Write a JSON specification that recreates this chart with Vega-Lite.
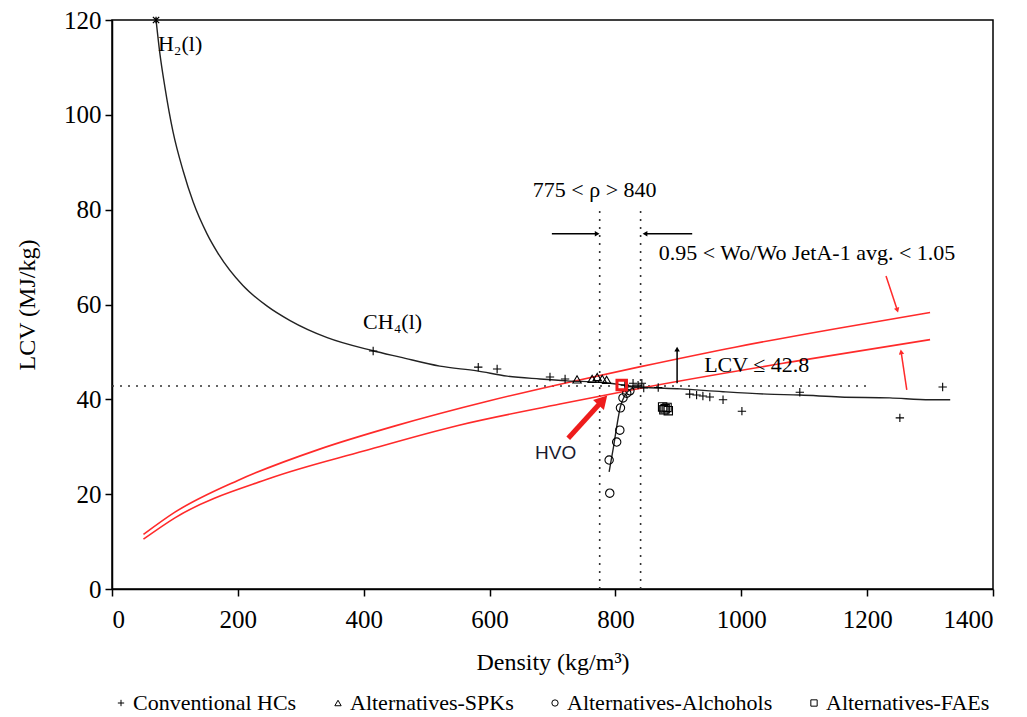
{
  "$schema": "https://vega.github.io/schema/vega-lite/v6.json",
  "autosize": "none",
  "width": 881,
  "height": 569,
  "padding": {"left": 112, "top": 20, "right": 34, "bottom": 128},
  "background": "white",
  "config": {
    "font": "Liberation Serif",
    "view": {"stroke": "black", "strokeWidth": 1.5},
    "style": {
      "guide-label": {"font": "Liberation Serif"},
      "guide-title": {"font": "Liberation Serif"}
    },
    "axis": {
      "grid": false,
      "domainColor": "black",
      "domainWidth": 1.5,
      "tickColor": "black",
      "tickWidth": 1.5,
      "tickSize": 7,
      "labelFont": "Liberation Serif",
      "labelFontSize": 25,
      "labelColor": "black",
      "titleFont": "Liberation Serif",
      "titleFontSize": 24,
      "titleFontWeight": "normal",
      "titleColor": "black"
    },
    "legend": {"labelFont": "Liberation Serif"}
  },
  "datasets": {
    "curve": [
      {"d": 70, "v": 120}, {"d": 76, "v": 113}, {"d": 84, "v": 105.9}, {"d": 97, "v": 96.4},
      {"d": 113, "v": 88.2}, {"d": 129, "v": 81.6}, {"d": 151, "v": 74.9}, {"d": 168, "v": 70.9},
      {"d": 208, "v": 64.0}, {"d": 246, "v": 59.7}, {"d": 283, "v": 56.6}, {"d": 342, "v": 53.0},
      {"d": 413, "v": 50.3}, {"d": 458, "v": 48.9}, {"d": 521, "v": 47.0}, {"d": 580, "v": 46.0},
      {"d": 628, "v": 44.9}, {"d": 680, "v": 44.3}, {"d": 723, "v": 43.9}, {"d": 775, "v": 43.6},
      {"d": 839, "v": 42.6}, {"d": 903, "v": 42.2}, {"d": 971, "v": 41.6}, {"d": 1041, "v": 41.1},
      {"d": 1093, "v": 40.9}, {"d": 1157, "v": 40.5}, {"d": 1236, "v": 40.3}, {"d": 1300, "v": 39.9},
      {"d": 1332, "v": 39.9}
    ],
    "alcline": [
      {"d": 790, "v": 24.7}, {"d": 797, "v": 30}, {"d": 803, "v": 35}, {"d": 808, "v": 38.5},
      {"d": 815, "v": 40.8}, {"d": 825, "v": 42.2}, {"d": 840, "v": 42.7}
    ],
    "red": [
      {"s": "upper", "d": 50, "v": 11.5}, {"s": "upper", "d": 100, "v": 16.2}, {"s": "upper", "d": 200, "v": 22.9},
      {"s": "upper", "d": 330, "v": 29.5}, {"s": "upper", "d": 450, "v": 34.4}, {"s": "upper", "d": 600, "v": 39.7},
      {"s": "upper", "d": 712, "v": 43.2}, {"s": "upper", "d": 840, "v": 46.9}, {"s": "upper", "d": 990, "v": 51.0},
      {"s": "upper", "d": 1150, "v": 54.9}, {"s": "upper", "d": 1300, "v": 58.3},
      {"s": "lower", "d": 50, "v": 10.5}, {"s": "lower", "d": 100, "v": 15.0}, {"s": "lower", "d": 250, "v": 23.3},
      {"s": "lower", "d": 400, "v": 29.1}, {"s": "lower", "d": 550, "v": 34.5}, {"s": "lower", "d": 712, "v": 39.0},
      {"s": "lower", "d": 850, "v": 42.6}, {"s": "lower", "d": 1080, "v": 47.9}, {"s": "lower", "d": 1300, "v": 52.6}
    ],
    "pts": [
      {"type": "Conventional HCs", "d": 415, "v": 50.2},
      {"type": "Conventional HCs", "d": 582, "v": 46.8},
      {"type": "Conventional HCs", "d": 612, "v": 46.4},
      {"type": "Conventional HCs", "d": 696, "v": 44.7},
      {"type": "Conventional HCs", "d": 720, "v": 44.3},
      {"type": "Conventional HCs", "d": 815, "v": 43.0},
      {"type": "Conventional HCs", "d": 828, "v": 43.4},
      {"type": "Conventional HCs", "d": 836, "v": 43.0},
      {"type": "Conventional HCs", "d": 842, "v": 43.4},
      {"type": "Conventional HCs", "d": 845, "v": 42.4},
      {"type": "Conventional HCs", "d": 868, "v": 42.5},
      {"type": "Conventional HCs", "d": 918, "v": 41.1},
      {"type": "Conventional HCs", "d": 929, "v": 40.9},
      {"type": "Conventional HCs", "d": 939, "v": 40.7},
      {"type": "Conventional HCs", "d": 950, "v": 40.5},
      {"type": "Conventional HCs", "d": 971, "v": 39.9},
      {"type": "Conventional HCs", "d": 1001, "v": 37.5},
      {"type": "Conventional HCs", "d": 1093, "v": 41.5},
      {"type": "Conventional HCs", "d": 1252, "v": 36.1},
      {"type": "Conventional HCs", "d": 1320, "v": 42.6},
      {"type": "Alternatives-SPKs", "d": 739, "v": 44.2},
      {"type": "Alternatives-SPKs", "d": 763, "v": 44.3},
      {"type": "Alternatives-SPKs", "d": 771, "v": 44.7},
      {"type": "Alternatives-SPKs", "d": 779, "v": 44.3},
      {"type": "Alternatives-SPKs", "d": 786, "v": 44.1},
      {"type": "Alternatives-Alchohols", "d": 823, "v": 41.8},
      {"type": "Alternatives-Alchohols", "d": 818, "v": 41.3},
      {"type": "Alternatives-Alchohols", "d": 812, "v": 40.3},
      {"type": "Alternatives-Alchohols", "d": 808, "v": 38.2},
      {"type": "Alternatives-Alchohols", "d": 807, "v": 33.5},
      {"type": "Alternatives-Alchohols", "d": 802, "v": 31.0},
      {"type": "Alternatives-Alchohols", "d": 790, "v": 27.2},
      {"type": "Alternatives-Alchohols", "d": 791, "v": 20.2},
      {"type": "Alternatives-FAEs", "d": 875, "v": 38.4},
      {"type": "Alternatives-FAEs", "d": 879, "v": 38.0},
      {"type": "Alternatives-FAEs", "d": 884, "v": 37.6},
      {"type": "Alternatives-FAEs", "d": 877, "v": 37.8},
      {"type": "Alternatives-FAEs", "d": 882, "v": 38.3}
    ],
    "vrules": [{"d": 775, "v0": 0, "v1": 80}, {"d": 840, "v0": 0, "v1": 80}],
    "hrule": [{"d0": 0, "d1": 1200, "v": 42.8}],
    "blackarrows": [
      {"d": 699, "v": 74.9, "d2": 771, "v2": 74.9, "ang": 90},
      {"d": 922, "v": 74.9, "d2": 847, "v2": 74.9, "ang": 270},
      {"d": 898, "v": 43.4, "d2": 898, "v2": 50.6, "ang": 0}
    ],
    "redarrows": [
      {"d": 1230, "v": 66.0, "d2": 1248, "v2": 58.8, "ang": 162},
      {"d": 1263, "v": 42.0, "d2": 1254, "v2": 50.0, "ang": 351}
    ],
    "hvoarrow": [{"d": 725, "v": 31.8, "d2": 780, "v2": 39.8, "ang": 43}],
    "hvo": [{"d": 810, "v": 43.0}],
    "h2": [{"d": 70, "v": 120}],
    "serifLabels": [
      {"d": 73, "v": 115.0, "t": "H₂(l)"},
      {"d": 399, "v": 56.3, "t": "CH₄(l)"},
      {"d": 869, "v": 70.9, "t": "0.95 < Wo/Wo JetA-1 avg. < 1.05"},
      {"d": 941, "v": 47.2, "t": "LCV ≤ 42.8"}
    ],
    "rhoLabel": [{"d": 767, "v": 84.1, "t": "775 < ρ > 840"}],
    "hvoLabel": [{"d": 705, "v": 28.7, "t": "HVO"}]
  },
  "encoding": {
    "x": {"field": "d", "type": "quantitative", "scale": {"domain": [0, 1400], "nice": false},
          "axis": {"values": [0, 200, 400, 600, 800, 1000, 1200, 1400], "format": "d", "title": "Density (kg/m³)",
                   "labelFont": "Liberation Serif, Times New Roman, serif", "titleFont": "Liberation Serif, Times New Roman, serif", "labelPadding": 11, "titlePadding": 18}},
    "y": {"field": "v", "type": "quantitative", "scale": {"domain": [0, 120], "nice": false},
          "axis": {"values": [0, 20, 40, 60, 80, 100, 120], "format": "d", "title": "LCV (MJ/kg)",
                   "labelFont": "Liberation Serif, Times New Roman, serif", "titleFont": "Liberation Serif, Times New Roman, serif", "labelPadding": 4, "titlePadding": 24}}
  },
  "layer": [
    {"data": {"name": "vrules"}, "mark": {"type": "rule", "color": "#333", "strokeWidth": 1.6, "strokeDash": [2, 6]},
     "encoding": {"x": {"field": "d", "type": "quantitative"}, "y": {"field": "v0", "type": "quantitative"}, "y2": {"field": "v1"}}},
    {"data": {"name": "hrule"}, "mark": {"type": "rule", "color": "#333", "strokeWidth": 1.6, "strokeDash": [2, 6]},
     "encoding": {"x": {"field": "d0", "type": "quantitative"}, "x2": {"field": "d1"}, "y": {"field": "v", "type": "quantitative"}}},
    {"data": {"name": "red"}, "mark": {"type": "line", "color": "#ff2a2a", "strokeWidth": 1.6, "interpolate": "monotone"},
     "encoding": {"detail": {"field": "s"}, "order": {"field": "d", "type": "quantitative"}}},
    {"data": {"name": "curve"}, "mark": {"type": "line", "color": "#222", "strokeWidth": 1.4, "interpolate": "monotone"}, "encoding": {}},
    {"data": {"name": "alcline"}, "mark": {"type": "line", "color": "#222", "strokeWidth": 1.4, "interpolate": "monotone"}, "encoding": {}},
    {"data": {"name": "blackarrows"}, "mark": {"type": "rule", "color": "black", "strokeWidth": 1.5},
     "encoding": {"x2": {"field": "d2"}, "y2": {"field": "v2"}}},
    {"data": {"name": "blackarrows"}, "mark": {"type": "point", "shape": "triangle-up", "filled": true, "color": "black", "size": 30, "opacity": 1},
     "encoding": {"x": {"field": "d2", "type": "quantitative"}, "y": {"field": "v2", "type": "quantitative"}, "angle": {"field": "ang", "type": "quantitative", "scale": null}}},
    {"data": {"name": "redarrows"}, "mark": {"type": "rule", "color": "#ff2a2a", "strokeWidth": 1.5},
     "encoding": {"x2": {"field": "d2"}, "y2": {"field": "v2"}}},
    {"data": {"name": "redarrows"}, "mark": {"type": "point", "shape": "triangle-up", "filled": true, "color": "#ff2a2a", "size": 30, "opacity": 1},
     "encoding": {"x": {"field": "d2", "type": "quantitative"}, "y": {"field": "v2", "type": "quantitative"}, "angle": {"field": "ang", "type": "quantitative", "scale": null}}},
    {"data": {"name": "hvoarrow"}, "mark": {"type": "rule", "color": "#ee1c1c", "strokeWidth": 5},
     "encoding": {"x2": {"field": "d2"}, "y2": {"field": "v2"}}},
    {"data": {"name": "hvoarrow"}, "mark": {"type": "point", "shape": "triangle-up", "filled": true, "color": "#ee1c1c", "size": 220, "opacity": 1},
     "encoding": {"x": {"field": "d2", "type": "quantitative"}, "y": {"field": "v2", "type": "quantitative"}, "angle": {"field": "ang", "type": "quantitative", "scale": null}}},
    {"data": {"name": "pts"}, "mark": {"type": "point", "filled": false, "color": "black", "strokeWidth": 1.1, "opacity": 1, "size": 70},
     "encoding": {"shape": {"field": "type", "type": "nominal",
       "scale": {"domain": ["Conventional HCs", "Alternatives-SPKs", "Alternatives-Alchohols", "Alternatives-FAEs"],
                 "range": ["M-1,0L1,0M0,-1L0,1", "triangle-up", "circle", "square"]},
       "legend": {"title": null, "orient": "none", "legendX": -2, "legendY": 672, "direction": "horizontal",
                  "labelFont": "Liberation Serif, Times New Roman, serif", "labelFontSize": 22, "labelColor": "black", "labelLimit": 400,
                  "symbolStrokeColor": "black", "symbolFillColor": "transparent", "symbolStrokeWidth": 1, "symbolSize": 40,
                  "columnPadding": 30, "labelOffset": 1}}}},
    {"data": {"name": "hvo"}, "mark": {"type": "point", "shape": "square", "filled": false, "color": "#ee1c1c", "strokeWidth": 3, "size": 90, "opacity": 1}, "encoding": {}},
    {"data": {"name": "h2"}, "mark": {"type": "point", "shape": "M-1,-1L1,1M-1,1L1,-1M0,-1L0,1", "filled": false, "color": "black", "strokeWidth": 1.3, "size": 40, "opacity": 1}, "encoding": {}},
    {"data": {"name": "serifLabels"}, "mark": {"type": "text", "font": "Liberation Serif", "fontSize": 22, "align": "left", "baseline": "middle", "color": "black"},
     "encoding": {"text": {"field": "t"}}},
    {"data": {"name": "rhoLabel"}, "mark": {"type": "text", "font": "Liberation Serif", "fontSize": 22, "align": "center", "baseline": "middle", "color": "black"},
     "encoding": {"text": {"field": "t"}}},
    {"data": {"name": "hvoLabel"}, "mark": {"type": "text", "font": "Liberation Sans", "fontSize": 19, "align": "center", "baseline": "middle", "color": "#1a1a2e"},
     "encoding": {"text": {"field": "t"}}}
  ]
}
